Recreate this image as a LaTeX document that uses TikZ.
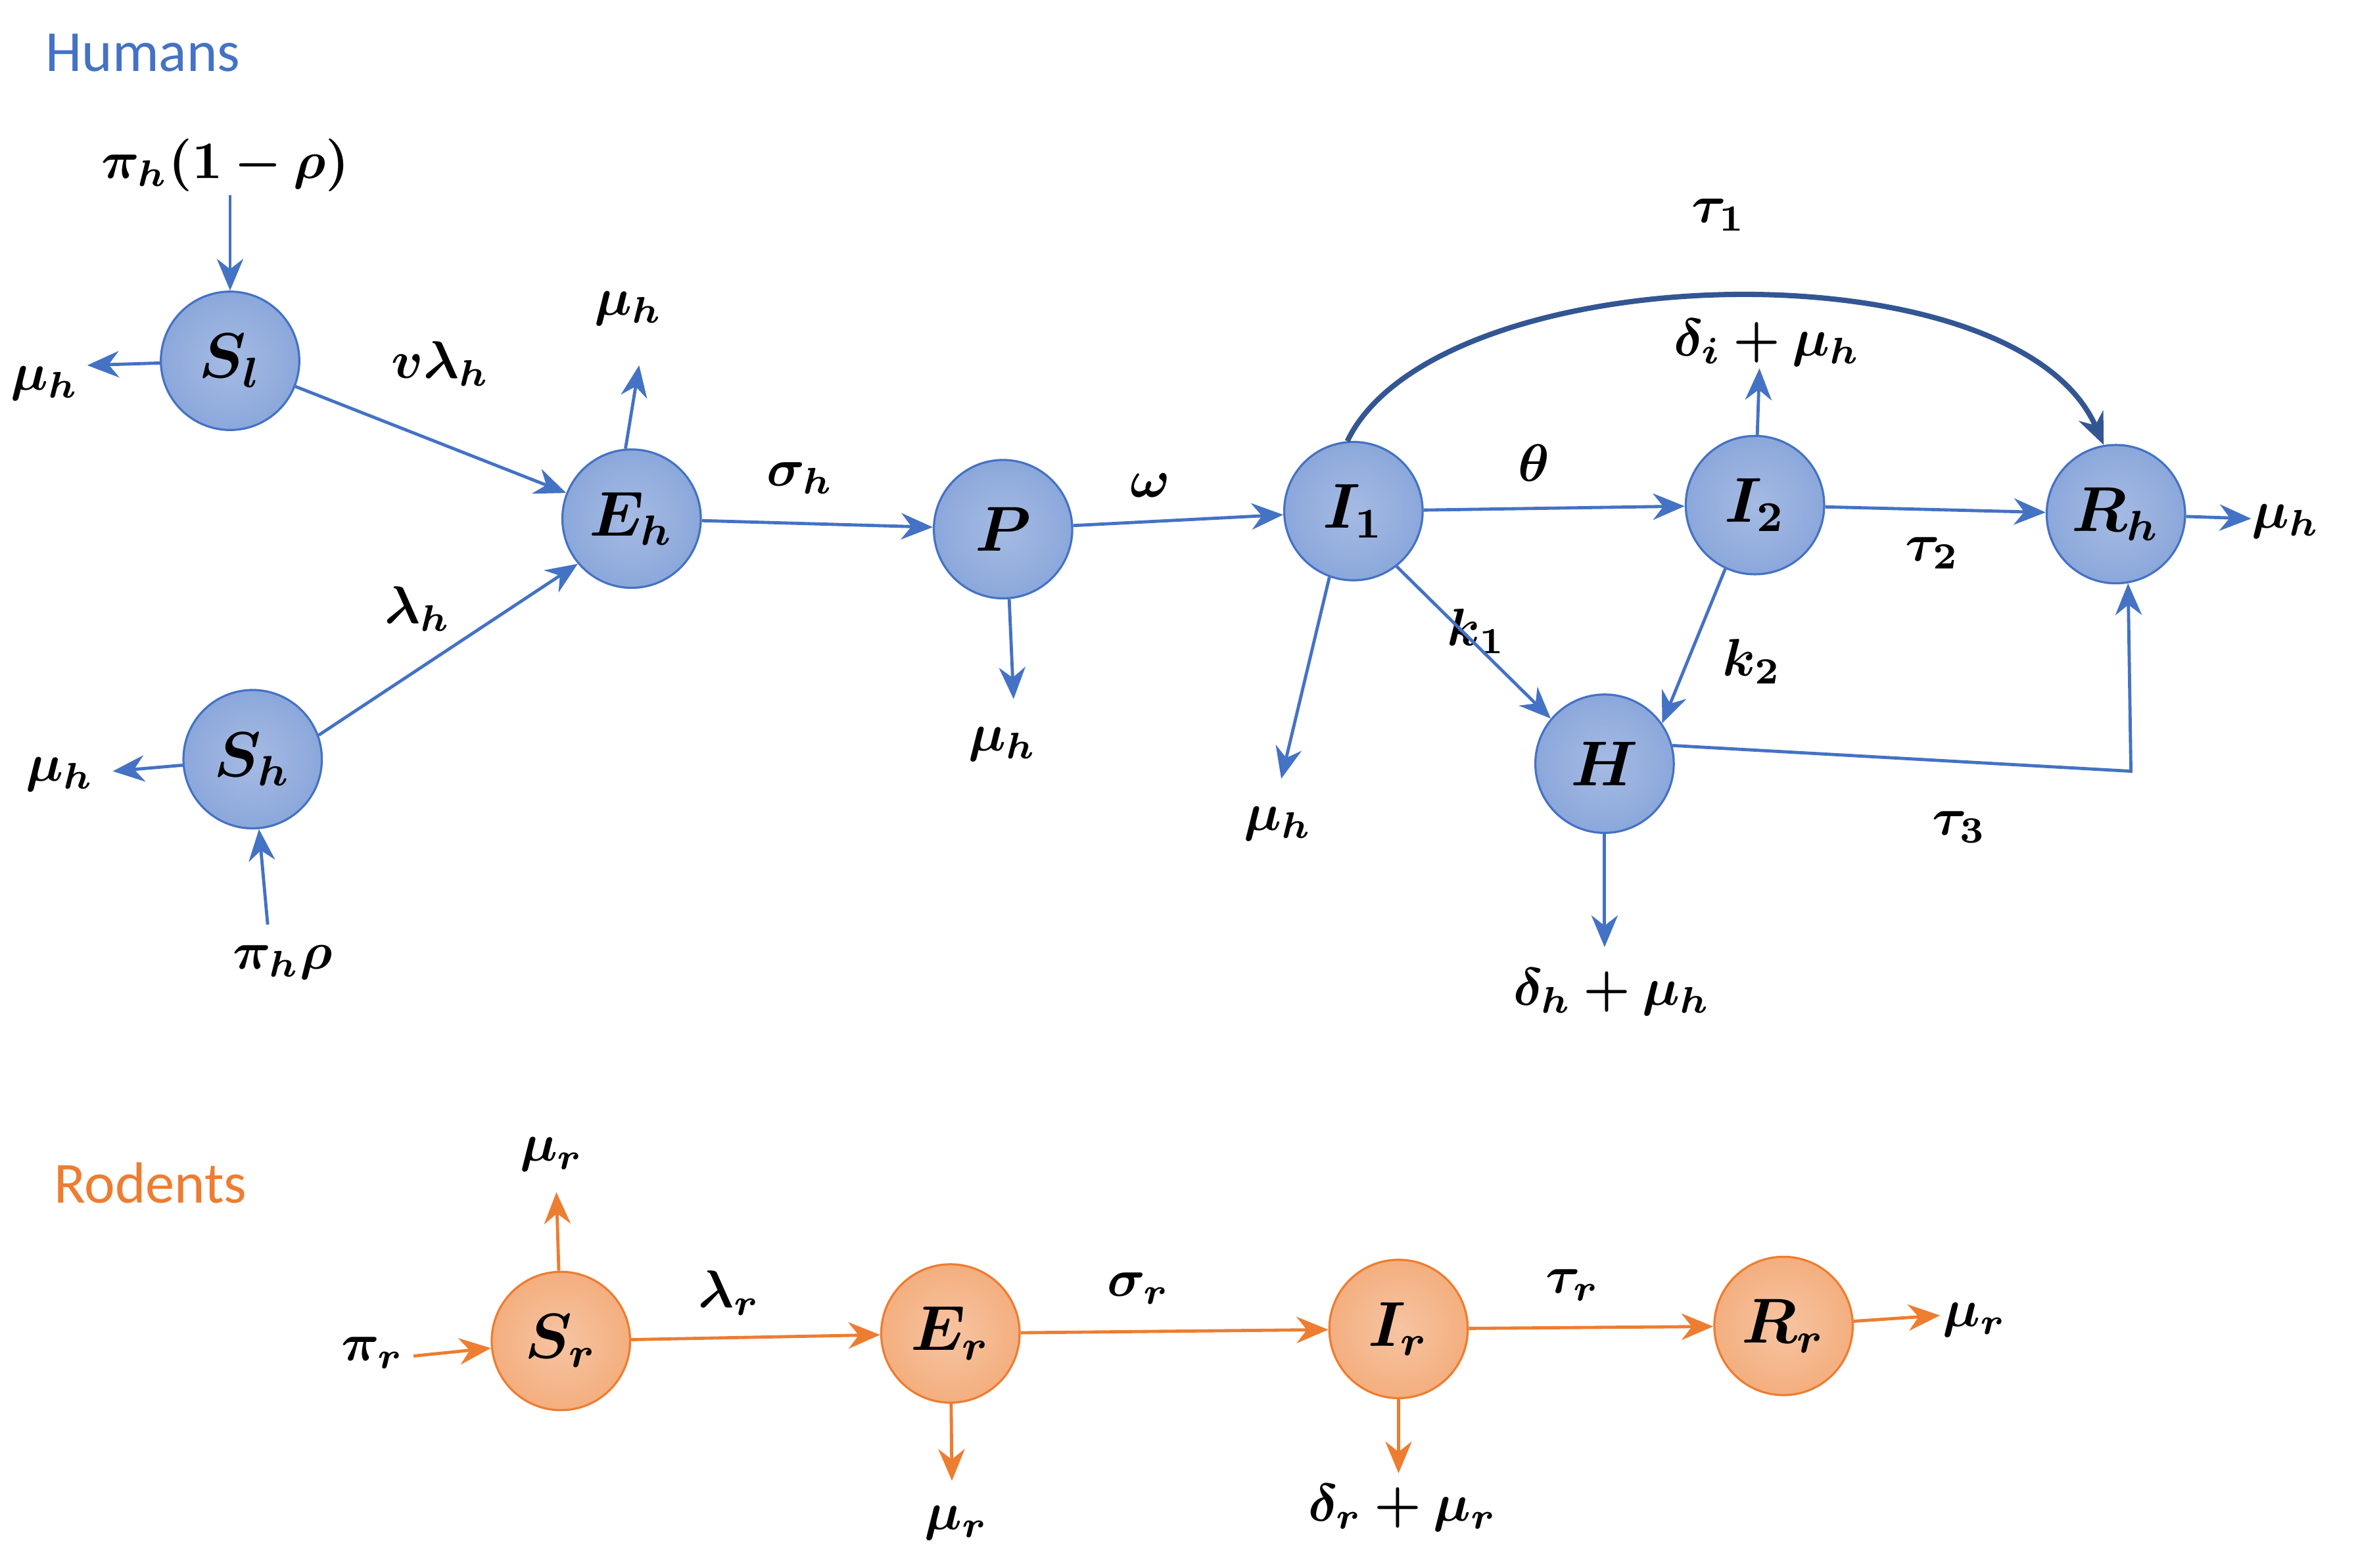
\documentclass[tikz,border=0pt]{standalone}
\usepackage{amsmath,bm}
\usepackage{fontspec}
\newfontfamily\calib{Carlito}
\usetikzlibrary{arrows.meta}
\definecolor{hb}{HTML}{4472C4}
\definecolor{hf}{HTML}{8FAADC}
\definecolor{ro}{HTML}{ED7D31}
\definecolor{rf}{HTML}{F4B183}
\tikzset{
 hum/.style={circle,draw=hb,inner color=hf!80,outer color=hf!95!hb,minimum size=0.92cm,inner sep=0pt,font=\large},
 rod/.style={circle,draw=ro,inner color=rf!75,outer color=rf!95!ro,minimum size=0.92cm,inner sep=0pt,font=\large},
 ha/.style={draw=hb,line width=0.6pt,-{Stealth[length=6pt,width=5pt]}},
 ra/.style={draw=ro,line width=0.6pt,-{Stealth[length=6pt,width=5pt]}},
 lab/.style={inner sep=1pt,font=\normalsize}
}
\newcommand{\bmm}[1]{$\bm{#1}$}
\begin{document}
\begin{tikzpicture}[x=0.01cm,y=-0.01cm]
\useasboundingbox (0,0) rectangle (1568,1043);
\node[font=\calib\fontsize{11}{13}\selectfont,text=hb] at (95,35) {Humans};
\node[font=\calib\fontsize{11}{13}\selectfont,text=ro] at (100,787) {Rodents};
% human nodes
\node[hum] (Sl) at (153,240) {\bmm{S_l}};
\node[hum] (Eh) at (420,345) {\bmm{E_h}};
\node[hum] (Sh) at (168,505) {\bmm{S_h}};
\node[hum] (P) at (667,352) {\bmm{P}};
\node[hum] (I1) at (900,340) {\bmm{I_1}};
\node[hum] (I2) at (1167,336) {\bmm{I_2}};
\node[hum] (Rh) at (1407,342) {\bmm{R_h}};
\node[hum] (H) at (1067,508) {\bmm{H}};
% labels
\node[lab] (l1) at (150,110) {\bmm{\pi_h(1-\rho)}};
\node[lab] (l2) at (30,255) {\bmm{\mu_h}};
\node[lab] at (293,242) {\bmm{v\lambda_h}};
\node[lab] (l3) at (418,205) {\bmm{\mu_h}};
\node[lab] at (278,405) {\bmm{\lambda_h}};
\node[lab] (l4) at (40,515) {\bmm{\mu_h}};
\node[lab] (l5) at (188,640) {\bmm{\pi_h\rho}};
\node[lab] at (532,318) {\bmm{\sigma_h}};
\node[lab] (l6) at (667,495) {\bmm{\mu_h}};
\node[lab] at (765,323) {\bmm{\omega}};
\node[lab] at (1020,308) {\bmm{\theta}};
\node[lab] (l7) at (1175,228) {\bmm{\delta_i+\mu_h}};
\node[lab] at (1285,368) {\bmm{\tau_2}};
\node[lab] (l8) at (1520,347) {\bmm{\mu_h}};
\node[lab] at (1143,143) {\bmm{\tau_1}};
\node[lab] (l9) at (850,548) {\bmm{\mu_h}};
\node[lab] at (982,420) {\bmm{k_1}};
\node[lab] at (1165,440) {\bmm{k_2}};
\node[lab] (l10) at (1072,660) {\bmm{\delta_h+\mu_h}};
\node[lab] at (1303,550) {\bmm{\tau_3}};
% human arrows
\coordinate (c1) at (153,130);
\draw[ha] (c1) -- (Sl);
\coordinate (c2) at (58,243);
\draw[ha] (Sl) -- (c2);
\draw[ha] (Sl) -- (Eh);
\coordinate (c3) at (425,243);
\draw[ha] (Eh.95) -- (c3);
\draw[ha] (Sh.20) -- (Eh.220);
\coordinate (c4) at (75,513);
\draw[ha] (Sh) -- (c4);
\coordinate (c5) at (178,615);
\draw[ha] (c5) -- (Sh);
\draw[ha] (Eh) -- (P);
\coordinate (c6) at (674,465);
\draw[ha] (P.-85) -- (c6);
\draw[ha] (P) -- (I1);
\draw[ha] (I1) -- (I2);
\coordinate (c7) at (1170,245);
\draw[ha] (I2) -- (c7);
\draw[ha] (I2) -- (Rh);
\coordinate (c8) at (1497,345);
\draw[ha] (Rh) -- (c8);
\draw[draw=hb!75!black,line width=1pt,-{Stealth[length=6pt,width=5pt]}] (I1.95) .. controls (955,170) and (1340,160) .. (Rh.100);
\coordinate (c9) at (852,518);
\draw[ha] (I1.-110) -- (c9);
\draw[ha] (I1.-52) -- (H.140);
\draw[ha] (I2.-115) -- (H.35);
\coordinate (c10) at (1067,630);
\draw[ha] (H) -- (c10);
\coordinate (c11) at (1417,513);
\draw[ha] (H.15) -- (c11) -- (Rh.-80);
% rodents
\node[rod] (Sr) at (373,892) {\bmm{S_r}};
\node[rod] (Er) at (632,887) {\bmm{E_r}};
\node[rod] (Ir) at (930,884) {\bmm{I_r}};
\node[rod] (Rr) at (1186,882) {\bmm{R_r}};
\node[lab] at (248,900) {\bmm{\pi_r}};
\node[lab] at (367,768) {\bmm{\mu_r}};
\node[lab] at (485,860) {\bmm{\lambda_r}};
\node[lab] at (636,1013) {\bmm{\mu_r}};
\node[lab] at (757,857) {\bmm{\sigma_r}};
\node[lab] at (933,1003) {\bmm{\delta_r+\mu_r}};
\node[lab] at (1046,855) {\bmm{\tau_r}};
\node[lab] at (1313,878) {\bmm{\mu_r}};
\coordinate (r1) at (275,902);
\draw[ra] (r1) -- (Sr);
\coordinate (r2) at (370,793);
\draw[ra] (Sr) -- (r2);
\draw[ra] (Sr) -- (Er);
\coordinate (r3) at (633,985);
\draw[ra] (Er) -- (r3);
\draw[ra] (Er) -- (Ir);
\coordinate (r4) at (930,980);
\draw[ra] (Ir) -- (r4);
\draw[ra] (Ir) -- (Rr);
\coordinate (r5) at (1290,875);
\draw[ra] (Rr) -- (r5);
\end{tikzpicture}
\end{document}
